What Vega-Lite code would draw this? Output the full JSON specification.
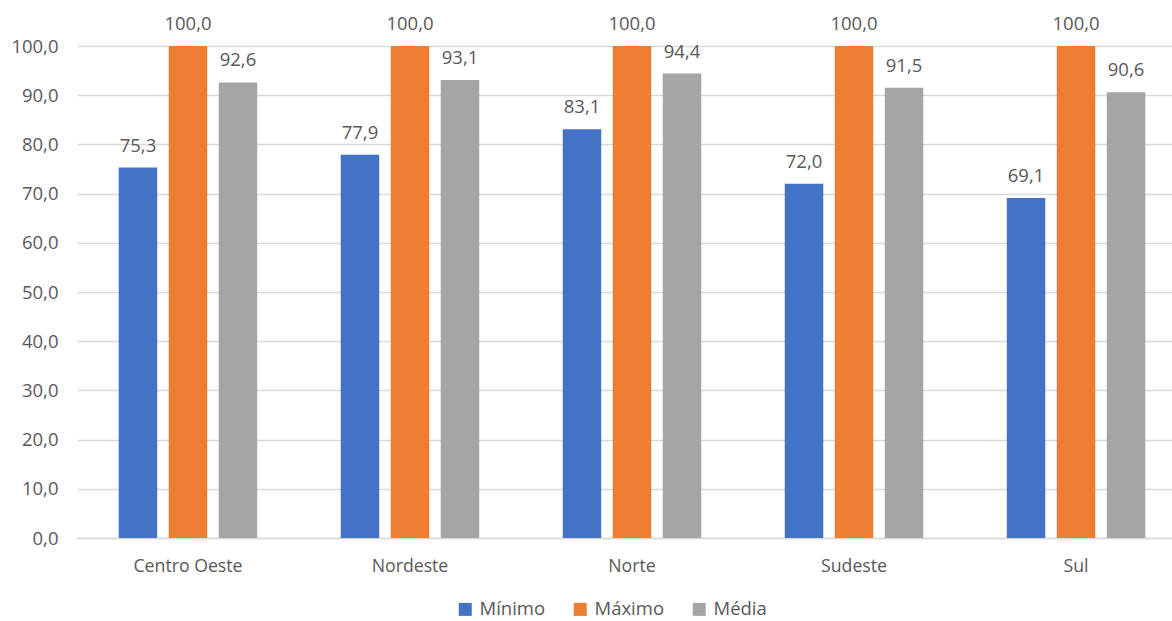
{
  "$schema": "https://vega.github.io/schema/vega-lite/v6.json",
  "width": 1095,
  "height": 492,
  "autosize": {"type": "none"},
  "padding": {"left": 77, "top": 46, "right": 0, "bottom": 83},
  "background": "#ffffff",
  "config": {
    "view": {"stroke": null},
    "font": "Open Sans",
    "locale": {
      "number": {"decimal": ",", "thousands": ".", "grouping": [3], "currency": ["R$", ""]}
    }
  },
  "data": {
    "values": [
      {"regiao": "Centro Oeste", "medida": "Mínimo", "valor": 75.3},
      {"regiao": "Centro Oeste", "medida": "Máximo", "valor": 100.0},
      {"regiao": "Centro Oeste", "medida": "Média", "valor": 92.6},
      {"regiao": "Nordeste", "medida": "Mínimo", "valor": 77.9},
      {"regiao": "Nordeste", "medida": "Máximo", "valor": 100.0},
      {"regiao": "Nordeste", "medida": "Média", "valor": 93.1},
      {"regiao": "Norte", "medida": "Mínimo", "valor": 83.1},
      {"regiao": "Norte", "medida": "Máximo", "valor": 100.0},
      {"regiao": "Norte", "medida": "Média", "valor": 94.4},
      {"regiao": "Sudeste", "medida": "Mínimo", "valor": 72.0},
      {"regiao": "Sudeste", "medida": "Máximo", "valor": 100.0},
      {"regiao": "Sudeste", "medida": "Média", "valor": 91.5},
      {"regiao": "Sul", "medida": "Mínimo", "valor": 69.1},
      {"regiao": "Sul", "medida": "Máximo", "valor": 100.0},
      {"regiao": "Sul", "medida": "Média", "valor": 90.6}
    ]
  },
  "encoding": {
    "x": {
      "field": "regiao",
      "type": "nominal",
      "sort": null,
      "scale": {"range": [0, 1110], "paddingInner": 0.3243, "paddingOuter": 0.162},
      "axis": {
        "title": null,
        "labelAngle": 0,
        "ticks": false,
        "labelPadding": 19,
        "labelFontSize": 17.7,
        "labelColor": "#595959",
        "domainColor": "#D9D9D9",
        "domainWidth": 1.3,
        "grid": false
      }
    },
    "xOffset": {
      "field": "medida",
      "type": "nominal",
      "sort": ["Mínimo", "Máximo", "Média"],
      "scale": {"paddingInner": 0.23, "paddingOuter": 0.115}
    },
    "y": {
      "field": "valor",
      "type": "quantitative",
      "scale": {"domain": [0, 100], "nice": false},
      "axis": {
        "title": null,
        "values": [0, 10, 20, 30, 40, 50, 60, 70, 80, 90, 100],
        "format": ".1f",
        "ticks": false,
        "domain": false,
        "labelPadding": 19,
        "labelFontSize": 18.5,
        "labelColor": "#595959",
        "gridColor": "#D9D9D9",
        "gridWidth": 1.3
      }
    }
  },
  "layer": [
    {
      "mark": {"type": "bar"},
      "encoding": {
        "color": {
          "field": "medida",
          "type": "nominal",
          "sort": ["Mínimo", "Máximo", "Média"],
          "scale": {"domain": ["Mínimo", "Máximo", "Média"], "range": ["#4472C4", "#ED7D31", "#A5A5A5"]},
          "legend": {
            "title": null,
            "orient": "none",
            "direction": "horizontal",
            "legendX": 379,
            "legendY": 554,
            "padding": 0,
            "symbolType": "square",
            "symbolSize": 169,
            "symbolStrokeWidth": 0,
            "symbolOpacity": 1,
            "labelFontSize": 18.5,
            "labelColor": "#595959",
            "labelOffset": 5,
            "columnPadding": 25
          }
        }
      }
    },
    {
      "mark": {"type": "text", "baseline": "alphabetic", "dy": -16, "fontSize": 18.5, "color": "#595959"},
      "encoding": {
        "text": {"field": "valor", "type": "quantitative", "format": ".1f"}
      }
    }
  ]
}
